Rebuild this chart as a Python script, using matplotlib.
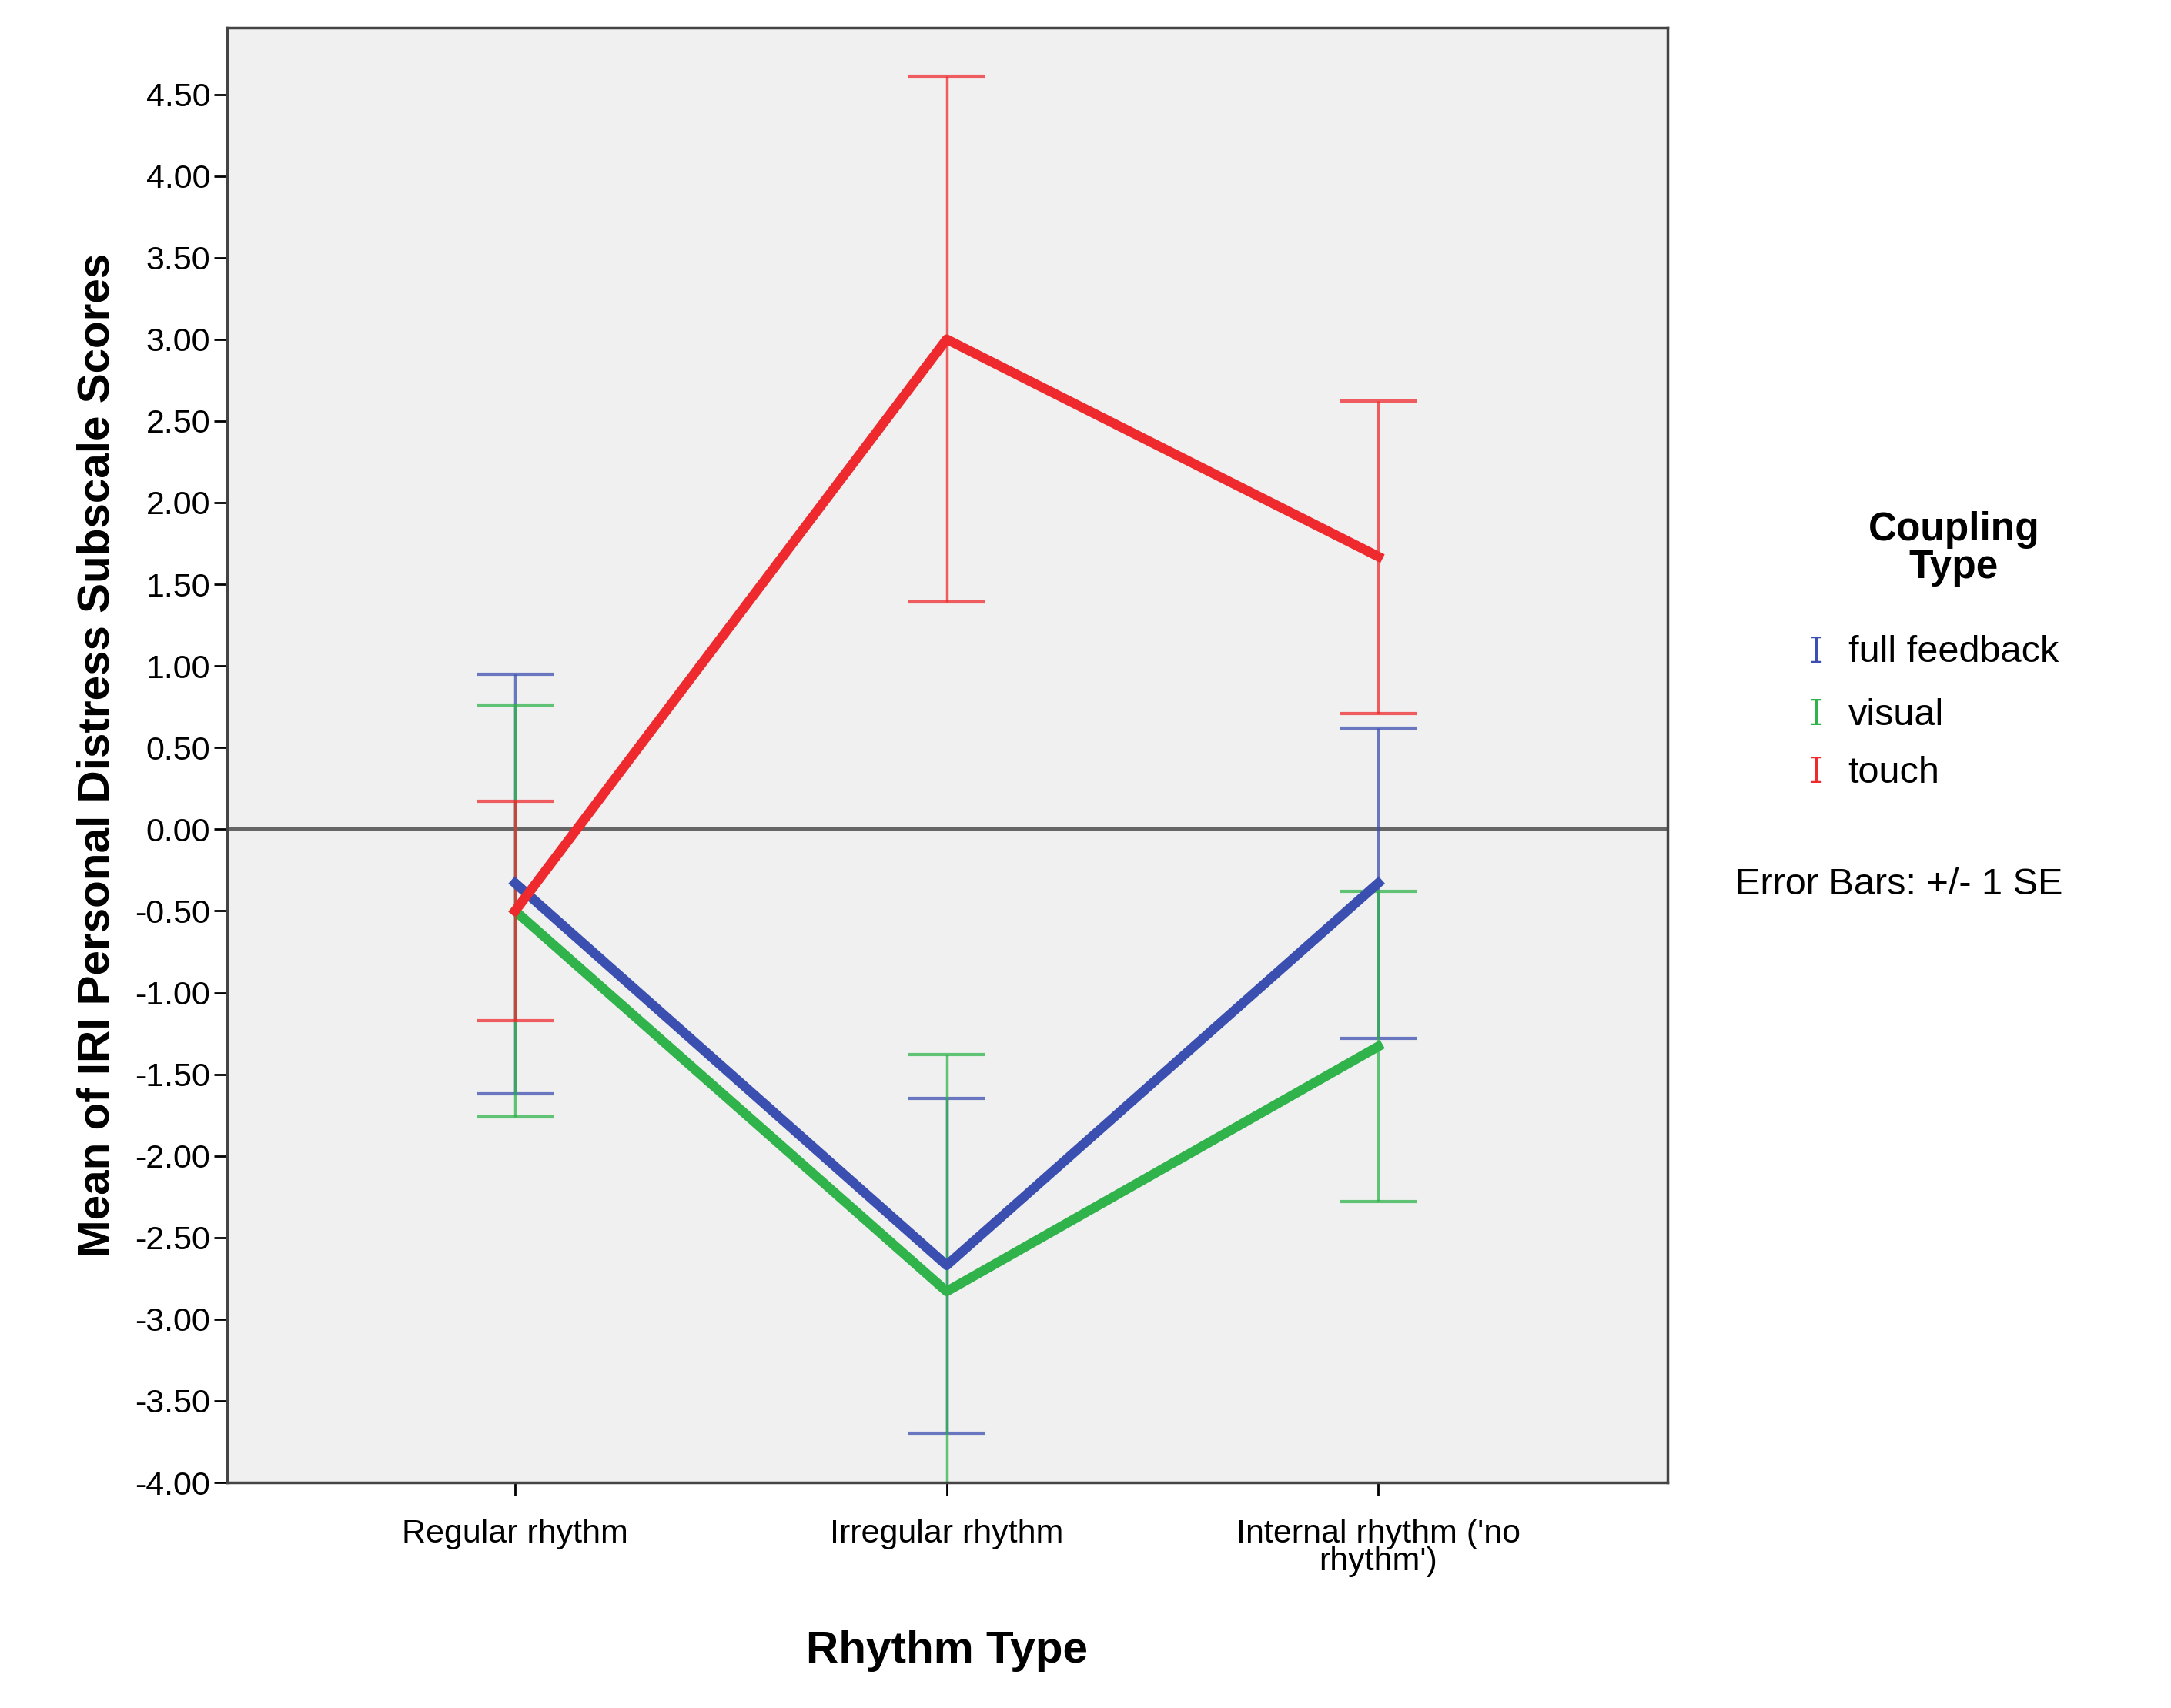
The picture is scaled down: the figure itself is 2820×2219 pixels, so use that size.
import matplotlib.pyplot as plt
import numpy as np

plt.rcParams['font.family'] = ['Liberation Sans', 'DejaVu Sans']

rhythm = ['Regular rhythm', 'Irregular rhythm', "Internal rhythm ('no\nrhythm')"]
groups = ['full feedback', 'visual', 'touch']
colors = ['#3a4fb0', '#2fb34a', '#ee2a2e']

means = {
    'full feedback': [-0.33, -2.67, -0.33],
    'visual': [-0.50, -2.83, -1.33],
    'touch': [-0.50, 3.00, 1.67],
}
lower = {
    'full feedback': [-1.62, -3.70, -1.28],
    'visual': [-1.76, -4.05, -2.28],
    'touch': [-1.17, 1.39, 0.71],
}
upper = {
    'full feedback': [0.95, -1.65, 0.62],
    'visual': [0.76, -1.38, -0.38],
    'touch': [0.17, 4.61, 2.62],
}

fig = plt.figure(figsize=(28.2, 22.19), dpi=100)
ax = fig.add_axes([0.1045, 0.132, 0.6635, 0.852])
ax.set_facecolor('#f0f0f0')

x = np.arange(3)
for g, c in zip(groups, colors):
    m = np.array(means[g])
    yerr = [m - np.array(lower[g]), np.array(upper[g]) - m]
    ax.errorbar(x, m, yerr=yerr, fmt='none', ecolor=c, elinewidth=2.5, capsize=36,
                capthick=3, alpha=0.75, zorder=2)
    ax.plot(x, m, color=c, lw=9, zorder=3)

ax.axhline(0, color='#666666', lw=4, zorder=1)
ax.set_xlim(-0.668, 2.67)
ax.set_ylim(-4.0, 4.91)
ax.set_yticks(np.arange(-4.0, 4.51, 0.5))
ax.set_yticklabels(['%.2f' % v for v in np.arange(-4.0, 4.51, 0.5)])
ax.set_xticks(x)
ax.set_xticklabels(rhythm, linespacing=0.85)
ax.tick_params(axis='both', labelsize=31, width=2, length=12)
ax.tick_params(axis='x', pad=22)
for s in ax.spines.values():
    s.set_linewidth(2.5)
    s.set_color('#444444')

ax.set_ylabel('Mean of IRI Personal Distress Subscale Scores', fontsize=42,
              fontweight='bold', labelpad=16)
ax.set_xlabel('Rhythm Type', fontsize=42, fontweight='bold', labelpad=50)

fig.text(0.9, 1 - 395 / 1230, 'Coupling\nType', fontsize=37, fontweight='bold',
         ha='center', va='center', linespacing=1.0)
for i, (g, c) in enumerate(zip(groups, colors)):
    yy = 1 - [470, 515, 557][i] / 1230
    fig.text(1305 / 1560, yy, 'I', color=c, fontsize=34, ha='center', va='center',
             family='DejaVu Serif')
    fig.text(1328 / 1560, yy, g, fontsize=35, ha='left', va='center')
fig.text(1247 / 1560, 1 - 637 / 1230, 'Error Bars: +/- 1 SE', fontsize=35,
         ha='left', va='center')

fig.savefig('out.png')
